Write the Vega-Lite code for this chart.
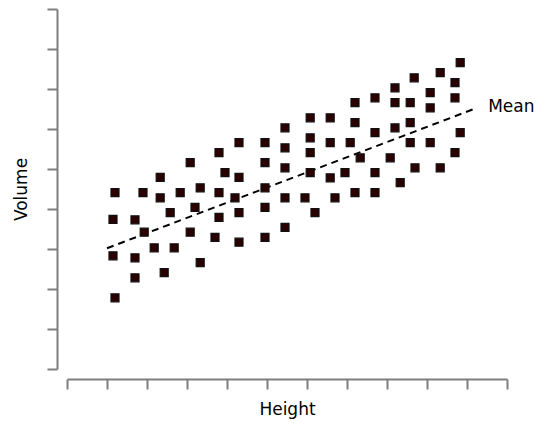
{
  "$schema": "https://vega.github.io/schema/vega-lite/v6.json",
  "autosize": "none",
  "width": 440,
  "height": 360,
  "padding": {"left": 67, "top": 9, "right": 53, "bottom": 62},
  "background": "white",
  "config": {"view": {"stroke": null}, "font": "DejaVu Sans"},
  "datasets": {
    "points": [
      {"h": 1.2, "v": 4.41}, {"h": 1.15, "v": 3.74}, {"h": 1.15, "v": 2.83}, {"h": 1.2, "v": 1.78},
      {"h": 1.9, "v": 4.41}, {"h": 1.7, "v": 3.73}, {"h": 1.93, "v": 3.42}, {"h": 1.7, "v": 2.78}, {"h": 1.7, "v": 2.28},
      {"h": 2.33, "v": 4.79}, {"h": 2.33, "v": 4.28}, {"h": 2.58, "v": 3.91}, {"h": 2.18, "v": 3.03}, {"h": 2.43, "v": 2.41},
      {"h": 2.83, "v": 4.41}, {"h": 3.08, "v": 5.16}, {"h": 3.33, "v": 4.53}, {"h": 3.2, "v": 4.04}, {"h": 3.08, "v": 3.42}, {"h": 2.68, "v": 3.03}, {"h": 3.33, "v": 2.66},
      {"h": 3.8, "v": 5.41}, {"h": 3.95, "v": 4.91}, {"h": 3.8, "v": 4.41}, {"h": 3.8, "v": 3.79}, {"h": 3.7, "v": 3.29},
      {"h": 4.3, "v": 5.66}, {"h": 4.3, "v": 4.79}, {"h": 4.2, "v": 4.28}, {"h": 4.3, "v": 3.91}, {"h": 4.3, "v": 3.17},
      {"h": 4.95, "v": 5.66}, {"h": 4.95, "v": 5.16}, {"h": 4.95, "v": 4.53}, {"h": 4.95, "v": 4.04}, {"h": 4.95, "v": 3.29},
      {"h": 5.45, "v": 6.03}, {"h": 5.45, "v": 5.53}, {"h": 5.45, "v": 5.03}, {"h": 5.45, "v": 4.28}, {"h": 5.45, "v": 3.54},
      {"h": 6.08, "v": 6.28}, {"h": 6.08, "v": 5.78}, {"h": 6.08, "v": 5.41}, {"h": 6.08, "v": 4.91}, {"h": 5.95, "v": 4.28}, {"h": 6.2, "v": 3.91},
      {"h": 6.58, "v": 6.28}, {"h": 6.58, "v": 5.66}, {"h": 6.58, "v": 4.78}, {"h": 6.95, "v": 4.91}, {"h": 7.08, "v": 5.66}, {"h": 6.7, "v": 4.28},
      {"h": 7.2, "v": 6.66}, {"h": 7.2, "v": 6.16}, {"h": 7.33, "v": 5.28}, {"h": 7.2, "v": 4.41},
      {"h": 7.7, "v": 6.78}, {"h": 7.7, "v": 5.91}, {"h": 7.7, "v": 4.91}, {"h": 7.7, "v": 4.41},
      {"h": 8.2, "v": 7.03}, {"h": 8.2, "v": 6.66}, {"h": 8.2, "v": 6.03}, {"h": 8.08, "v": 5.28}, {"h": 8.33, "v": 4.66},
      {"h": 8.68, "v": 7.28}, {"h": 8.58, "v": 6.66}, {"h": 8.58, "v": 6.16}, {"h": 8.58, "v": 5.66}, {"h": 8.7, "v": 5.03},
      {"h": 9.33, "v": 7.41}, {"h": 9.08, "v": 6.91}, {"h": 9.08, "v": 6.53}, {"h": 9.08, "v": 5.66}, {"h": 9.33, "v": 5.03},
      {"h": 9.83, "v": 7.66}, {"h": 9.7, "v": 7.16}, {"h": 9.7, "v": 6.78}, {"h": 9.83, "v": 5.91}, {"h": 9.7, "v": 5.41}
    ],
    "mean": [{"h": 1.0, "v": 3.02}, {"h": 10.15, "v": 6.49}],
    "label": [{"h": 10.53, "v": 6.55, "text": "Mean"}]
  },
  "layer": [
    {
      "data": {"name": "mean"},
      "mark": {"type": "line", "color": "black", "strokeWidth": 2, "strokeDash": [7, 5]},
      "encoding": {
        "x": {"field": "h", "type": "quantitative", "scale": {"domain": [0, 11], "nice": false},
          "axis": {"title": "Height", "values": [0,1,2,3,4,5,6,7,8,9,10,11], "tickCount": 12, "labels": false, "labelOverlap": false, "grid": false, "offset": 10,
            "tickSize": 10, "tickWidth": 2, "tickColor": "#7f7f7f", "domainColor": "#7f7f7f", "domainWidth": 2,
            "titleFontSize": 17, "titleFontWeight": "normal", "titleColor": "black", "titlePadding": 11}},
        "y": {"field": "v", "type": "quantitative", "scale": {"domain": [0, 9], "nice": false},
          "axis": {"title": "Volume", "values": [0,1,2,3,4,5,6,7,8,9], "tickCount": 10, "labels": false, "labelOverlap": false, "grid": false, "offset": 10,
            "tickSize": 10, "tickWidth": 2, "tickColor": "#7f7f7f", "domainColor": "#7f7f7f", "domainWidth": 2,
            "titleFontSize": 17, "titleFontWeight": "normal", "titleColor": "black", "titlePadding": 16}}
      }
    },
    {
      "data": {"name": "points"},
      "mark": {"type": "point", "shape": "square", "filled": true, "fill": "#2a0000", "stroke": "#111111", "strokeWidth": 1.2, "size": 64, "opacity": 1},
      "encoding": {
        "x": {"field": "h", "type": "quantitative"},
        "y": {"field": "v", "type": "quantitative"}
      }
    },
    {
      "data": {"name": "label"},
      "mark": {"type": "text", "align": "left", "baseline": "middle", "fontSize": 17, "color": "black"},
      "encoding": {
        "x": {"field": "h", "type": "quantitative"},
        "y": {"field": "v", "type": "quantitative"},
        "text": {"field": "text"}
      }
    }
  ]
}
